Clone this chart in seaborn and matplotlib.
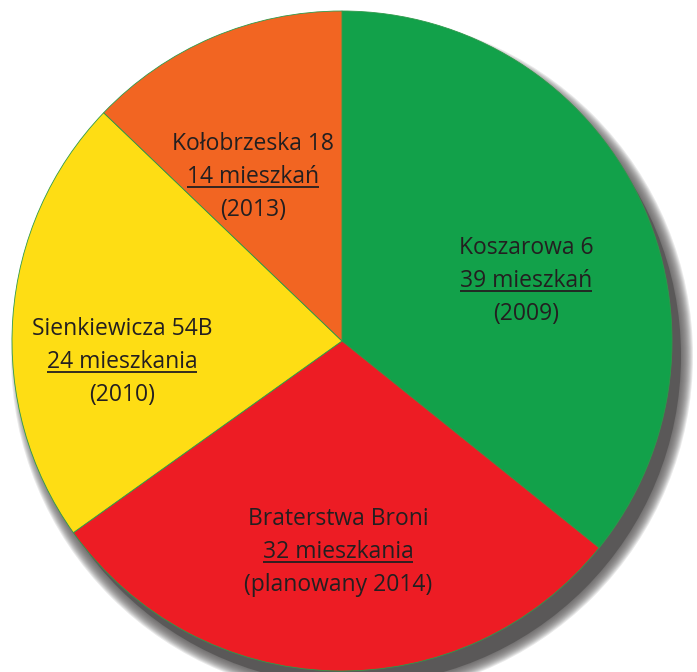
import seaborn as sns
import matplotlib.pyplot as plt
from matplotlib.patches import Circle

# dane
names = ['Koszarowa 6', 'Braterstwa Broni', 'Sienkiewicza 54B', 'Kołobrzeska 18']
flats = [39, 32, 24, 14]
flat_labels = ['39 mieszkań', '32 mieszkania', '24 mieszkania', '14 mieszkań']
years = ['(2009)', '(planowany 2014)', '(2010)', '(2013)']
colors = ['#12a14a', '#ed1c24', '#fedd14', '#f26522']
# label centres in pixel units (x, y of middle line)
label_pos = [(526, 281), (338, 552), (122, 362), (253, 177)]

sns.set_theme(style='white')
plt.rcParams['font.family'] = ['Open Sans', 'DejaVu Sans']

W, H = 697, 672
fig = plt.figure(figsize=(W / 100, H / 100), dpi=100, facecolor='white')
ax = fig.add_axes([0, 0, 1, 1])
ax.set_aspect('equal')

cx, cy, R = 342, H - 341, 330

# soft shadow, blurred by stacking circles
sx, sy = cx + 10, cy - 15
for i in range(14):
    ax.add_patch(Circle((sx, sy), R + 11 - i * 1.0, color='#5a5858',
                        alpha=0.13, lw=0, zorder=1))
ax.add_patch(Circle((sx, sy), R - 1, color='#5a5858', lw=0, zorder=1))

ax.pie(flats, colors=colors, startangle=90, counterclock=False,
       center=(cx, cy), radius=R, frame=True,
       wedgeprops=dict(edgecolor='#2e9a4a', linewidth=0.6, zorder=2))
ax.set_xlim(0, W)
ax.set_ylim(0, H)
ax.axis('off')

fig.canvas.draw()
renderer = fig.canvas.get_renderer()
gap = 33
for name, fl, yr, (px, py) in zip(names, flat_labels, years, label_pos):
    y = H - py
    ax.text(px, y + gap, name, ha='center', va='center', fontsize=16.5,
            color='#231f20', zorder=5)
    t = ax.text(px, y, fl, ha='center', va='center', fontsize=16.5,
                color='#231f20', zorder=5)
    ax.text(px, y - gap, yr, ha='center', va='center', fontsize=16.5,
            color='#231f20', zorder=5)
    bb = t.get_window_extent(renderer).transformed(ax.transData.inverted())
    ax.plot([bb.x0, bb.x1], [bb.y0 + 2, bb.y0 + 2], color='#231f20',
            lw=1.3, zorder=5, solid_capstyle='butt')

fig.savefig('out.png', dpi=100)
